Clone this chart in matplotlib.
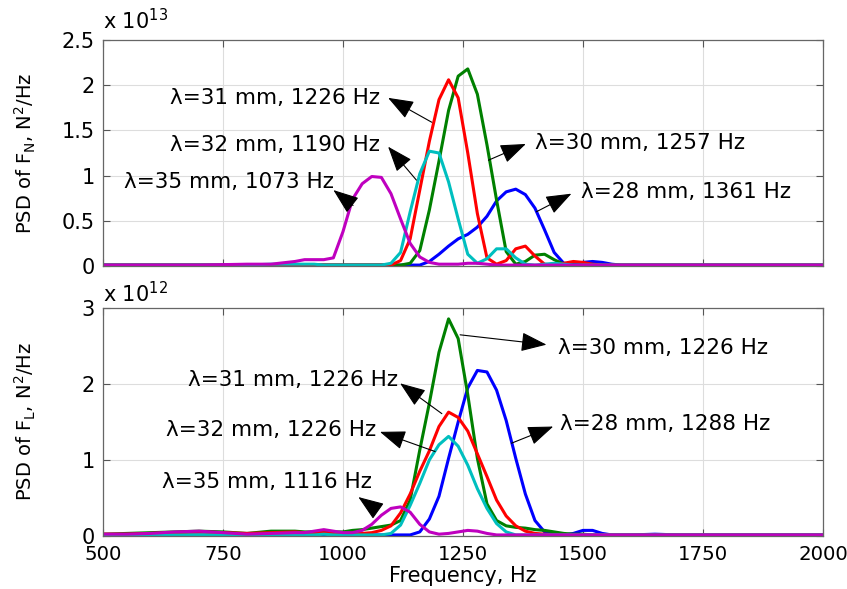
import matplotlib
matplotlib.use("Agg")
import matplotlib.pyplot as plt

plt.rcParams['font.family'] = ['DejaVu Sans']
plt.rcParams['mathtext.default'] = 'regular'

# frequency grid, Hz
freq = ([500, 550, 600, 650, 700, 750, 800, 850, 900]
        + list(range(920, 1601, 20))
        + [1650, 1700, 1750, 1800, 1850, 1900, 1950, 2000])

# ---- top panel: PSD of F_N, units of 1e13 N^2/Hz ----
fn_28 = ([0.01] * 9
         + [0.01] * 12
         + [0.01, 0.05, 0.13, 0.22, 0.30, 0.35, 0.43, 0.55, 0.72, 0.82, 0.85, 0.79,
            0.64, 0.40, 0.15, 0.03, 0.02, 0.04, 0.05, 0.04, 0.02, 0.01, 0.01]
         + [0.01] * 8)
fn_30 = ([0.01] * 9
         + [0.01] * 11
         + [0.03, 0.17, 0.62, 1.16, 1.72, 2.10, 2.18, 1.90, 1.34, 0.73, 0.16, 0.02,
            0.05, 0.12, 0.13, 0.07, 0.02]
         + [0.01] * 7
         + [0.01] * 8)
fn_31 = ([0.01] * 9
         + [0.01] * 10
         + [0.06, 0.30, 0.84, 1.38, 1.84, 2.06, 1.86, 1.25, 0.58, 0.09, 0.02, 0.06,
            0.19, 0.22, 0.11, 0.02, 0.01, 0.03, 0.05, 0.04, 0.02, 0.01, 0.01, 0.01, 0.01]
         + [0.01] * 8)
fn_32 = ([0.01, 0.01, 0.01, 0.01, 0.01, 0.01, 0.01, 0.02, 0.02]
         + [0.02, 0.02, 0.01, 0.01, 0.01, 0.01, 0.01, 0.01, 0.01, 0.03, 0.15, 0.60,
            1.02, 1.27, 1.25, 0.93, 0.52, 0.13, 0.03, 0.08, 0.19, 0.19, 0.09, 0.02,
            0.01, 0.02, 0.03, 0.02, 0.01]
         + [0.01] * 6
         + [0.01] * 8)
fn_35 = ([0.01, 0.01, 0.01, 0.01, 0.01, 0.015, 0.02, 0.02, 0.05]
         + [0.07, 0.07, 0.07, 0.09, 0.38, 0.74, 0.91, 0.99, 0.98, 0.80, 0.52, 0.25,
            0.10, 0.04, 0.02, 0.02, 0.02, 0.03, 0.03, 0.02, 0.01]
         + [0.01] * 14
         + [0.01] * 8)

# ---- bottom panel: PSD of F_L, units of 1e12 N^2/Hz ----
fl_28 = ([0.01] * 9
         + [0.01] * 12
         + [0.05, 0.22, 0.52, 1.02, 1.50, 1.95, 2.18, 2.16, 1.92, 1.52, 1.02, 0.55,
            0.20, 0.05, 0.02, 0.01, 0.03, 0.07, 0.07, 0.03, 0.01, 0.01, 0.01]
         + [0.02, 0.01, 0.01, 0.01, 0.01, 0.01, 0.01, 0.01])
fl_30 = ([0.02, 0.03, 0.04, 0.05, 0.06, 0.05, 0.03, 0.06, 0.06]
         + [0.05, 0.05, 0.05, 0.05, 0.05, 0.07, 0.08, 0.10, 0.12, 0.14, 0.20, 0.47,
            1.13, 1.75, 2.42, 2.86, 2.60, 1.86, 1.02, 0.42, 0.20, 0.13, 0.11, 0.10,
            0.08, 0.07, 0.05, 0.03, 0.02, 0.02, 0.01, 0.01, 0.01, 0.01, 0.01]
         + [0.01] * 8)
fl_31 = ([0.02, 0.02, 0.03, 0.04, 0.05, 0.04, 0.03, 0.04, 0.05]
         + [0.04, 0.04, 0.04, 0.03, 0.03, 0.03, 0.03, 0.04, 0.07, 0.13, 0.30, 0.55,
            0.85, 1.12, 1.44, 1.63, 1.56, 1.38, 1.08, 0.78, 0.47, 0.26, 0.13, 0.06,
            0.03, 0.02, 0.01]
         + [0.01] * 8
         + [0.01] * 8)
fl_32 = ([0.01] * 9
         + [0.01, 0.01, 0.02, 0.01, 0.01, 0.01, 0.01, 0.01, 0.01]
         + [0.03, 0.14, 0.40, 0.69, 1.00, 1.20, 1.31, 1.18, 0.93, 0.62, 0.36, 0.16,
            0.05, 0.01]
         + [0.01] * 12
         + [0.01] * 8)
fl_35 = ([0.02, 0.02, 0.03, 0.05, 0.06, 0.04, 0.02, 0.03, 0.04]
         + [0.04, 0.06, 0.08, 0.06, 0.04, 0.04, 0.07, 0.15, 0.27, 0.36, 0.38, 0.31,
            0.15, 0.05, 0.02, 0.03, 0.05, 0.07, 0.06, 0.03, 0.01]
         + [0.01] * 14
         + [0.01] * 8)

colors = {'28': '#0000ff', '30': '#008000', '31': '#ff0000', '32': '#00bfbf', '35': '#bf00bf'}

xticks = [500, 750, 1000, 1250, 1500, 1750, 2000]
top_yticks = [0, 0.5, 1, 1.5, 2, 2.5]
top_ylabels = ['0', '0.5', '1', '1.5', '2', '2.5']
bot_yticks = [0, 1, 2, 3]
bot_ylabels = ['0', '1', '2', '3']

# text, text anchor (right/left x, y), arrow head, arrow tail
top_notes = [
    ('λ=31 mm, 1226 Hz', 'right', (1077, 1.86), (1094, 1.86), (1185, 1.59)),
    ('λ=32 mm, 1190 Hz', 'right', (1077, 1.34), (1094, 1.32), (1153, 0.95)),
    ('λ=35 mm, 1073 Hz', 'right', (982, 0.93), (980, 0.84), (1021, 0.67)),
    ('λ=30 mm, 1257 Hz', 'left', (1400, 1.36), (1381, 1.35), (1303, 1.17)),
    ('λ=28 mm, 1361 Hz', 'left', (1495, 0.82), (1476, 0.80), (1403, 0.60)),
]
bot_notes = [
    ('λ=31 mm, 1226 Hz', 'right', (1114, 2.05), (1119, 2.01), (1206, 1.61)),
    ('λ=32 mm, 1226 Hz', 'right', (1070, 1.40), (1077, 1.37), (1192, 1.11)),
    ('λ=35 mm, 1116 Hz', 'right', (1060, 0.71), (1032, 0.51), (1070, 0.34)),
    ('λ=30 mm, 1226 Hz', 'left', (1449, 2.47), (1424, 2.52), (1244, 2.65)),
    ('λ=28 mm, 1288 Hz', 'left', (1453, 1.48), (1438, 1.44), (1351, 1.22)),
]

fig = plt.figure(figsize=(8.47, 5.89), dpi=100)
ax1 = fig.add_axes([0.1216, 0.5484, 0.850, 0.3837])
ax2 = fig.add_axes([0.1216, 0.0905, 0.850, 0.3861])


def style(ax, yticks, ylabels, ymax):
    ax.set_xlim(500, 2000)
    ax.set_ylim(0, ymax)
    ax.set_xticks(xticks)
    ax.set_yticks(yticks)
    ax.set_yticklabels(ylabels)
    ax.grid(True, color='#dddddd', lw=0.8)
    ax.set_axisbelow(True)
    ax.tick_params(direction='in', length=5, width=0.8, top=True, right=True,
                   labelsize=15, color='#555555', pad=6)
    ax.tick_params(axis='x', labelsize=14.2, pad=7)
    for s in ax.spines.values():
        s.set_color('#666666')
        s.set_linewidth(0.9)


def draw(ax, series, notes):
    for key, vals in series:
        ax.plot(freq, vals, color=colors[key], lw=2.2, solid_joinstyle='round')
    for txt, ha, tpos, head, tail in notes:
        ax.text(tpos[0], tpos[1], txt, ha=ha, va='center', fontsize=15.5)
        ax.annotate('', xy=head, xytext=tail,
                    arrowprops=dict(arrowstyle='-|>,head_length=0.8,head_width=0.3',
                                    color='k', lw=0.8, mutation_scale=20,
                                    shrinkA=0, shrinkB=0))


draw(ax1, [('28', fn_28), ('30', fn_30), ('31', fn_31), ('32', fn_32), ('35', fn_35)], top_notes)
style(ax1, top_yticks, top_ylabels, 2.5)
ax1.set_xticklabels([])
ax1.set_ylabel('PSD of F$_N$, N$^2$/Hz', fontsize=14)
ax1.yaxis.set_label_coords(-0.09, 0.5)
ax1.text(0.0, 1.03, 'x 10$^{13}$', transform=ax1.transAxes, fontsize=15, ha='left', va='bottom')

draw(ax2, [('28', fl_28), ('30', fl_30), ('31', fl_31), ('32', fl_32), ('35', fl_35)], bot_notes)
style(ax2, bot_yticks, bot_ylabels, 3)
ax2.set_ylabel('PSD of F$_L$, N$^2$/Hz', fontsize=14)
ax2.yaxis.set_label_coords(-0.09, 0.5)
ax2.set_xlabel('Frequency, Hz', fontsize=15, labelpad=1)
ax2.text(0.0, 1.01, 'x 10$^{12}$', transform=ax2.transAxes, fontsize=15, ha='left', va='bottom')

fig.savefig('out.png', dpi=100)
